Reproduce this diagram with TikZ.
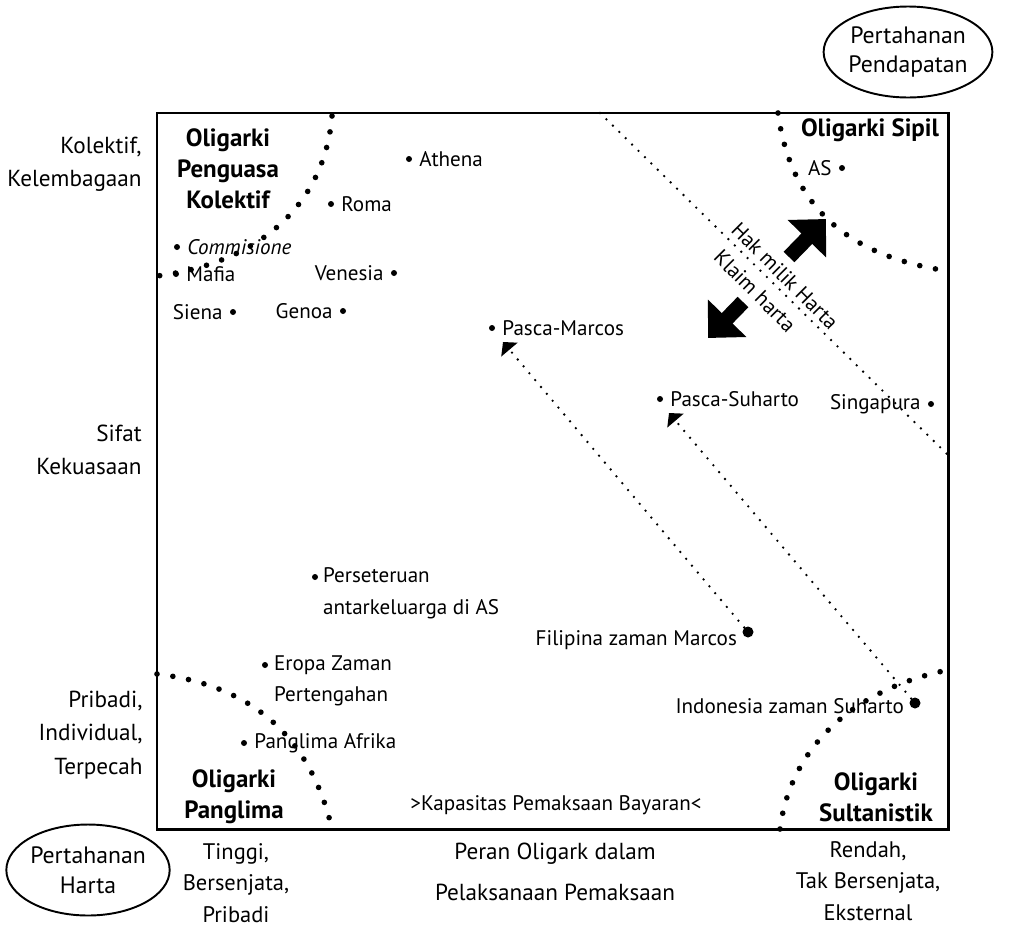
\documentclass[tikz,border=0pt]{standalone}
\usepackage{fontspec}
\setmainfont{PT Sans}
\usetikzlibrary{shapes.geometric, arrows.meta, positioning, calc}
\tikzset{
  frame/.style={draw, line width=1.7pt},
  oval/.style={
    ellipse, draw, line width=1.1pt,
    minimum width=3.05cm, minimum height=1.82cm, inner sep=0pt,
    align=center, font=\fontsize{13.5}{17}\selectfont
  },
  sidelabel/.style={align=right, anchor=east, inner sep=0pt, font=\fontsize{13.2}{19}\selectfont},
  bottomlabel/.style={align=center, inner sep=0pt, font=\fontsize{12.8}{17.8}\selectfont},
  zonename/.style={align=center, inner sep=0pt, font=\fontsize{14.2}{17.5}\selectfont\bfseries},
  caselabel/.style={inner sep=1pt, font=\fontsize{12}{18}\selectfont},
  casept/.style={circle, fill, inner sep=0pt, minimum size=0.12cm},
  bigpt/.style={casept, minimum size=0.22cm},
  boundary/.style={line width=3.2pt, line cap=round, dash pattern=on 0pt off 0.32cm},
  trail/.style={line width=1.5pt, line cap=round, dash pattern=on 0pt off 0.18cm},
  trailtip/.style={-{Triangle[length=0.2cm, width=0.42cm]}},
  bigarrow/.style={line width=0.3cm, -{Triangle[length=0.55cm, width=1.04cm]}},
}
\begin{document}
\begin{tikzpicture}[x=0.02cm, y=-0.02cm]
  \useasboundingbox (0,0) rectangle (1017,927);
  \draw[frame] (157,113) rectangle (948,829);

  % batas zona
  \draw[boundary] (332,116) .. controls (325,200) and (265,262) .. (157,276);
  \draw[boundary] (778,113) .. controls (790,200) and (840,255) .. (948,271);
  \draw[boundary] (157,674) .. controls (250,685) and (310,735) .. (332,829);
  \draw[boundary] (780,829) .. controls (790,750) and (850,690) .. (948,670);
  \draw[trail] (600,113) -- (948,455);

  \node (pendapatan) [oval] at (908,52) {Pertahanan\\Pendapatan};
  \node (harta)      [oval] at (88,870) {Pertahanan\\Harta};

  \node (kolektif) [sidelabel] at (142,164) {Kolektif,\\Kelembagaan};
  \node (sifat)    [sidelabel] at (142,450) {Sifat\\Kekuasaan};
  \node (pribadi)  [sidelabel] at (143,735) {Pribadi,\\Individual,\\Terpecah};

  \node (tinggi) [bottomlabel] at (236,883) {Tinggi,\\Bersenjata,\\Pribadi};
  \node (peran)  [bottomlabel, font=\fontsize{13.2}{23}\selectfont] at (555,872) {Peran Oligark dalam\\Pelaksanaan Pemaksaan};
  \node (rendah) [bottomlabel] at (868,881) {Rendah,\\Tak Bersenjata,\\Eksternal};

  \node (penguasa)    [zonename] at (228,169) {Oligarki\\Penguasa\\Kolektif};
  \node (sipil)       [zonename] at (870,130) {Oligarki Sipil};
  \node (panglima)    [zonename] at (234,797) {Oligarki\\Panglima};
  \node (sultanistik) [zonename] at (876,797) {Oligarki\\Sultanistik};
  \node (kapasitas)   [caselabel] at (556,805) {>Kapasitas Pemaksaan Bayaran<};

  \node (hakmilik) [caselabel, rotate=-45] at (785,276) {Hak milik Harta};
  \node (klaim)    [caselabel, rotate=-45] at (755,291) {Klaim harta};

  \coordinate (naiktail) at (789,257);
  \coordinate (naiktip)  at (826,219);
  \coordinate (turuntail) at (743,302);
  \coordinate (turuntip)  at (708,338);
  \draw[bigarrow] (naiktail) -- (naiktip);
  \draw[bigarrow] (turuntail) -- (turuntip);

  \node (athena)   [casept] at (409,159) {};
  \node (roma)     [casept] at (331,204) {};
  \node (komisi)   [casept] at (177,247) {};
  \node (mafia)    [casept] at (176,274) {};
  \node (venesia)  [casept] at (394,273) {};
  \node (siena)    [casept] at (233,312) {};
  \node (genoa)    [casept] at (343,311) {};
  \node (as)       [casept] at (842,168) {};
  \node (pmarcos)  [casept] at (492,328) {};
  \node (psuharto) [casept] at (660,399) {};
  \node (singa)    [casept] at (931,404) {};
  \node (seteru)   [casept] at (315,577) {};
  \node (eropa)    [casept] at (265,665) {};
  \node (afrika)   [casept] at (244,743) {};
  \node (filipina) [bigpt]  at (748,632) {};
  \node (indo)     [bigpt]  at (915,703) {};

  \node (athenalbl)   [caselabel, right=0.1cm of athena]   {Athena};
  \node (romalbl)     [caselabel, right=0.1cm of roma]     {Roma};
  \node (komisilbl)   [caselabel, right=0.1cm of komisi]   {\itshape Commisione};
  \node (mafialbl)    [caselabel, right=0.1cm of mafia]    {Mafia};
  \node (venesialbl)  [caselabel, left=0.1cm of venesia]   {Venesia};
  \node (sienalbl)    [caselabel, left=0.1cm of siena]     {Siena};
  \node (genoalbl)    [caselabel, left=0.1cm of genoa]     {Genoa};
  \node (aslbl)       [caselabel, left=0.1cm of as]        {AS};
  \node (pmarcoslbl)  [caselabel, right=0.1cm of pmarcos]  {Pasca-Marcos};
  \node (psuhartolbl) [caselabel, right=0.1cm of psuharto] {Pasca-Suharto};
  \node (singalbl)    [caselabel, left=0.1cm of singa]     {Singapura};
  \node (seterulbl)   [caselabel, align=left, anchor=west] at ($(seteru)+(6,16)$) {Perseteruan\\antarkeluarga di AS};
  \node (eropalbl)    [caselabel, align=left, anchor=west] at ($(eropa)+(7,16)$) {Eropa Zaman\\Pertengahan};
  \node (afrikalbl)   [caselabel, right=0.1cm of afrika]   {Panglima Afrika};
  \node (filipinalbl) [caselabel, anchor=east] at ($(filipina)+(-9,8)$) {Filipina zaman Marcos};
  \node (indolbl)     [caselabel, anchor=east] at ($(indo)+(-9,3)$) {Indonesia zaman Suharto};

  \coordinate (pmtip) at (503,342);
  \coordinate (pstip) at (669,413);
  \draw[trail, trailtip] (filipina) -- (pmtip);
  \draw[trail, trailtip] (indo) -- (pstip);
\end{tikzpicture}
\end{document}
